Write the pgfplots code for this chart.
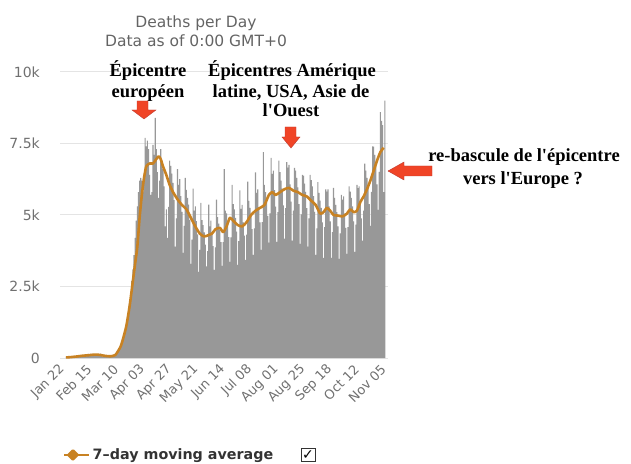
\documentclass[border=0pt]{standalone}
\usepackage{pgfplots}
\pgfplotsset{compat=1.18}
\usepackage{fontspec}
\setmainfont{Liberation Serif}[Ligatures=TeXOff]
\newfontfamily\dv{DejaVu Sans}
\definecolor{barcol}{RGB}{152,152,152}
\definecolor{avgcol}{RGB}{200,130,35}
\definecolor{gridcol}{RGB}{228,228,228}
\definecolor{labcol}{RGB}{112,112,112}
\definecolor{titcol}{RGB}{100,100,100}
\definecolor{legcol}{RGB}{51,51,51}
\definecolor{arrowred}{RGB}{240,68,38}
\definecolor{arrowedge}{RGB}{190,60,50}
\begin{document}
\begin{tikzpicture}
\path[use as bounding box] (0,0) rectangle (631pt,463pt);
\begin{axis}[
  at={(60pt,105pt)}, anchor=south west,
  scale only axis, width=327.6pt, height=286pt,
  xmin=-5.4, xmax=288.5, ymin=0, ymax=10000,
  axis line style={draw=none},
  major tick length=0pt,
  scaled y ticks=false,
  ymajorgrids, grid style={gridcol, line width=1pt},
  ytick={0,2500,5000,7500,10000},
  yticklabels={0,2.5k,5k,7.5k,10k},
  xtick={0,24,...,288},
  xticklabels={Jan 22,Feb 15,Mar 10,Apr 03,Apr 27,May 21,Jun 14,Jul 08,Aug 01,Aug 25,Sep 18,Oct 12,Nov 05},
  yticklabel style={font=\dv\fontsize{14}{16}\selectfont, text=labcol, anchor=east, inner sep=0pt, xshift=-20pt},
  xticklabel style={font=\dv\fontsize{13}{15}\selectfont, text=labcol, rotate=45, anchor=east, inner sep=0pt, xshift=-9pt, yshift=-4pt},
  legend style={at={(0.009,-0.339)}, anchor=west, draw=none, fill=none, inner sep=0pt,
    font=\dv\bfseries\fontsize{14.3}{16}\selectfont, text=legcol},
  legend image code/.code={\path (0pt,0pt) -- (25pt,0pt);
    \draw[avgcol, line width=2pt] (0pt,0pt) -- (17pt,0pt);
    \fill[avgcol] (8.5pt,0pt) +(0,4.5pt) -- +(4.5pt,0) -- +(0,-4.5pt) -- +(-4.5pt,0) -- cycle;},
]
\addplot[ybar, bar width=1, fill=barcol, draw=none, forget plot] coordinates {
(0,17)(1,8)(2,16)(3,14)(4,26)(5,26)(6,38)(7,43)(8,46)(9,45)(10,57)(11,64)(12,66)(13,72)(14,73)(15,86)(16,89)(17,97)(18,108)(19,97)(20,146)(21,121)(22,143)(23,142)(24,106)(25,98)(26,139)(27,115)(28,118)(29,109)(30,97)(31,150)(32,71)(33,52)(34,29)(35,44)(36,37)(37,58)(38,64)(39,57)(40,68)(41,75)(42,87)(43,100)
(44,100)(45,130)(46,230)(47,260)(48,330)(49,400)(50,480)(51,620)(52,750)(53,900)(54,1100)(55,1350)(56,1600)(57,1900)(58,2300)(59,2700)(60,3100)(61,3600)(62,4200)(63,4800)(64,5300)(65,5800)(66,6200)(67,6300)(68,6200)(69,5800)(70,6400)(71,7700)(72,7400)(73,7600)(74,7300)(75,6400)(76,5700)(77,5800)(78,7450)(79,7100)(80,8400)(81,7300)(82,6500)(83,5600)(84,6200)(85,7300)(86,6900)(87,6600)(88,6000)(89,4600)(90,5200)
(91,4200)(92,5280)(93,6900)(94,6720)(95,6450)(96,6120)(97,5520)
(98,3890)(99,4880)(100,6600)(101,6050)(102,6250)(103,5660)(104,5110)
(105,3680)(106,4620)(107,6300)(108,5880)(109,5600)(110,5360)(111,4830)
(112,3290)(113,4140)(114,5920)(115,5150)(116,5300)(117,4790)(118,4320)
(119,3010)(120,3780)(121,5420)(122,4820)(123,4650)(124,4390)(125,3960)
(126,3200)(127,3740)(128,5360)(129,4600)(130,4800)(131,4340)(132,3910)
(133,3080)(134,3870)(135,5540)(136,4930)(137,4700)(138,4490)(139,4050)
(140,3220)(141,4050)(142,6600)(143,5150)(144,5060)(145,4690)(146,4230)
(147,3360)(148,4220)(149,6050)(150,5380)(151,5200)(152,4900)(153,4420)
(154,3260)(155,4090)(156,5860)(157,5210)(158,5350)(159,4740)(160,4280)
(161,3430)(162,4310)(163,6170)(164,5490)(165,5250)(166,5000)(167,4510)
(168,3610)(169,4530)(170,6490)(171,5770)(172,5900)(173,5250)(174,4740)
(175,3780)(176,4750)(177,7200)(178,6050)(179,5800)(180,5510)(181,4970)
(182,4030)(183,5060)(184,7000)(185,6440)(186,6550)(187,5870)(188,5290)
(189,4060)(190,5100)(191,6900)(192,6500)(193,6200)(194,5920)(195,5340)
(196,4170)(197,5240)(198,6850)(199,6660)(200,6750)(201,6070)(202,5470)
(203,4100)(204,5150)(205,6650)(206,6550)(207,6300)(208,5970)(209,5380)
(210,3990)(211,5020)(212,6400)(213,6380)(214,6100)(215,5810)(216,5240)
(217,3890)(218,4880)(219,6400)(220,6220)(221,6000)(222,5660)(223,5110)
(224,3610)(225,4530)(226,6150)(227,5770)(228,5500)(229,5250)(230,4740)
(231,3500)(232,4580)(233,5900)(234,5820)(235,5900)(236,5300)(237,4780)
(238,3500)(239,4400)(240,5950)(241,5600)(242,5350)(243,5100)(244,4600)
(245,3470)(246,4360)(247,5700)(248,5540)(249,5650)(250,5050)(251,4550)
(252,3640)(253,4580)(254,6000)(255,5820)(256,5600)(257,5300)(258,4780)
(259,3710)(260,4660)(261,6050)(262,5940)(263,6000)(264,5410)(265,4880)
(266,4100)(267,5150)(268,6800)(269,6550)(270,6300)(271,5970)(272,5380)
(273,4620)(274,5810)(275,7400)(276,7390)(277,7100)(278,6730)(279,6070)
(280,5180)(281,6510)(282,8600)(283,8290)(284,8140)(285,5800)(286,9000)
};
\addplot[avgcol, line width=2.6pt, smooth, tension=0.4, no marks, line join=round] coordinates {
(0,20)(4,30)(10,55)(15,80)(21,100)(26,120)(30,110)(35,75)(40,60)(44,100)(46,200)(49,400)(51,650)(54,1100)(57,1800)(60,2700)(62,3300)(64,3900)(66,4900)(68,5700)(70,6300)(72,6700)(75,6800)(78,6800)(80,6900)(83,7050)(85,6950)(87,6700)(90,6400)(93,6050)(96,5800)(100,5550)(104,5350)(108,5200)(112,4900)(116,4600)(120,4350)(124,4250)(128,4300)(131,4350)(134,4500)(138,4550)(141,4400)(144,4600)(147,4900)(150,4800)(154,4650)(158,4600)(162,4750)(166,5000)(170,5150)(174,5250)(178,5350)(182,5700)(185,5800)(188,5700)(192,5800)(196,5900)(200,5950)(204,5850)(208,5800)(212,5700)(216,5650)(220,5500)(224,5350)(228,5050)(231,5100)(234,5250)(237,5150)(240,5000)(244,4980)(248,4950)(252,5050)(255,5200)(258,5100)(261,5150)(264,5450)(267,5650)(270,5900)(273,6200)(276,6550)(279,6900)(282,7200)(285,7350)
};
\addlegendentry{7–day moving average}
\end{axis}
% title
\node[anchor=base, font=\dv\fontsize{15.5}{18}\selectfont, text=titcol] at (196pt,435pt) {Deaths per Day};
\node[anchor=base, font=\dv\fontsize{15.5}{18}\selectfont, text=titcol] at (196pt,416pt) {Data as of 0:00 GMT+0};
% annotations
\begin{scope}[every node/.style={anchor=base, inner sep=0pt, font=\bfseries\fontsize{18.5}{21}\selectfont}]
\node at (148pt,386pt) {Épicentre};
\node at (148pt,365pt) {européen};
\node at (292pt,386pt) {Épicentres Amérique};
\node at (291pt,365pt) {latine, USA, Asie de};
\node at (291pt,346pt) {l'Ouest};
\node at (524pt,301pt) {re-bascule de l'épicentre};
\node at (523pt,278pt) {vers l'Europe ?};
\end{scope}
% arrows
\filldraw[fill=arrowred, draw=arrowedge, line width=0.4pt]
  (137pt,362pt) -- (148pt,362pt) -- (148pt,353pt) -- (156pt,353pt) -- (144pt,344pt) -- (132pt,353pt) -- (137pt,353pt) -- cycle;
\filldraw[fill=arrowred, draw=arrowedge, line width=0.4pt]
  (285pt,336pt) -- (296pt,336pt) -- (296pt,326pt) -- (300pt,326pt) -- (291pt,315pt) -- (282pt,326pt) -- (285pt,326pt) -- cycle;
\filldraw[fill=arrowred, draw=arrowedge, line width=0.4pt]
  (432pt,297pt) -- (404pt,297pt) -- (404pt,301pt) -- (388pt,292pt) -- (404pt,283pt) -- (404pt,287pt) -- (432pt,287pt) -- cycle;
% checkbox
\draw[legcol, line width=0.9pt] (301pt,1.5pt) rectangle (315pt,15pt);
\node[font=\dv\bfseries\fontsize{14}{14}\selectfont, text=black, inner sep=0pt] at (308pt,7.5pt) {✓};
\end{tikzpicture}
\end{document}
